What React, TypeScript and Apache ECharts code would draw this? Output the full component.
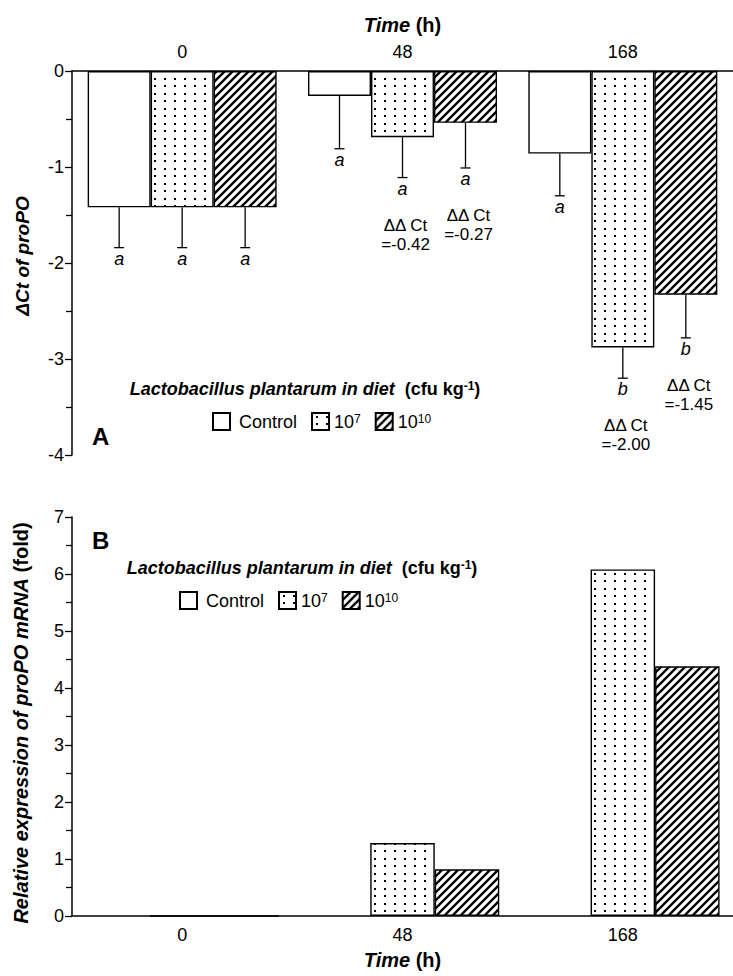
import React, { useEffect, useRef } from 'react';
import * as echarts from 'echarts';

// ---------- data ----------
const timeLabels = ['0', '48', '168'];
const groupNames = ['Control', '10^7', '10^10'];

// Panel A: ΔCt of proPO
const dCtControl = [-1.42, -0.26, -0.86];
const dCt1e7 = [-1.42, -0.69, -2.88];
const dCt1e10 = [-1.42, -0.54, -2.33];
const errControl = [0.42, 0.55, 0.44];
const err1e7 = [0.42, 0.42, 0.32];
const err1e10 = [0.42, 0.47, 0.45];
const lettersControl = ['a', 'a', 'a'];
const letters1e7 = ['a', 'a', 'b'];
const letters1e10 = ['a', 'a', 'b'];
const ddCtControl: (number | null)[] = [null, null, null];
const ddCt1e7: (number | null)[] = [null, -0.42, -2.0];
const ddCt1e10: (number | null)[] = [null, -0.27, -1.45];

// Panel B: relative expression (fold)
const relControl: (number | null)[] = [null, null, null];
const rel1e7 = [0, 1.28, 6.08];
const rel1e10 = [0, 0.82, 4.38];

// ---------- styling ----------
const FONT = "'Liberation Sans', Arial, Helvetica, sans-serif";
const BAR_A = 63;
const BAR_B = 64.5;

function makeDots() {
  const c = document.createElement('canvas');
  c.width = 10;
  c.height = 15;
  const ctx = c.getContext('2d')!;
  ctx.fillStyle = '#fff';
  ctx.fillRect(0, 0, 10, 15);
  ctx.fillStyle = '#000';
  ctx.fillRect(4, 3, 2, 2);
  ctx.fillRect(4, 10, 2, 2);
  return { image: c, repeat: 'repeat', imageWidth: 10, imageHeight: 15 } as any;
}

function makeHatch() {
  const c = document.createElement('canvas');
  c.width = 8;
  c.height = 8;
  const ctx = c.getContext('2d')!;
  ctx.fillStyle = '#fff';
  ctx.fillRect(0, 0, 8, 8);
  ctx.strokeStyle = '#000';
  ctx.lineWidth = 2.3;
  ctx.beginPath();
  ctx.moveTo(-2, 10);
  ctx.lineTo(10, -2);
  ctx.moveTo(-6, 6);
  ctx.lineTo(6, -6);
  ctx.moveTo(2, 14);
  ctx.lineTo(14, 2);
  ctx.stroke();
  return { image: c, repeat: 'repeat', imageWidth: 8, imageHeight: 8 } as any;
}

const axisLineStyle = { color: '#000', width: 1.5 };
const tickLineStyle = { color: '#000', width: 1.3 };
const labelStyle = { fontSize: 18, color: '#000', fontFamily: FONT };

export default function App() {
  const ref = useRef<HTMLDivElement>(null);

  useEffect(() => {
    if (!ref.current) return;
    const chart = echarts.init(ref.current, undefined, { renderer: 'svg' });
    const dots = makeDots();
    const hatch = makeHatch();
    const fills = ['#fff', dots, hatch];

    const legendFormatter = (name: string) =>
      name === 'Control' ? '{c|Control}' : name === '10^7' ? '{n|10}{s|7}' : '{n|10}{s|10}';
    const legendRich = {
      c: { fontSize: 18, color: '#000', fontFamily: FONT, padding: [0, 0, 0, 4] },
      n: { fontSize: 18, color: '#000', fontFamily: FONT },
      s: { fontSize: 12, color: '#000', fontFamily: FONT, verticalAlign: 'top' },
    };

    const errSeries = (g: number, vals: number[], errs: number[], letters: string[], dd: (number | null)[]) => ({
      type: 'custom',
      xAxisIndex: 0,
      yAxisIndex: 0,
      silent: true,
      z: 10,
      data: vals.map((v, i) => [i, v, v - errs[i]]),
      renderItem: (params: any, api: any) => {
        const i = api.value(0);
        const top = api.coord([i, api.value(1)]);
        const end = api.coord([i, api.value(2)]);
        const x = top[0] + (g - 1) * BAR_A;
        const children: any[] = [
          { type: 'line', shape: { x1: x, y1: top[1], x2: x, y2: end[1] }, style: { stroke: '#000', lineWidth: 1.3 } },
          { type: 'line', shape: { x1: x - 5, y1: end[1], x2: x + 5, y2: end[1] }, style: { stroke: '#000', lineWidth: 1.3 } },
          {
            type: 'text',
            x: x,
            y: end[1] + 11,
            style: {
              text: letters[params.dataIndex],
              fontSize: 18,
              fontStyle: 'italic',
              fontFamily: FONT,
              fill: '#000',
              align: 'center',
              verticalAlign: 'middle',
            },
          },
        ];
        const d = dd[params.dataIndex];
        if (d !== null && d !== undefined) {
          children.push({
            type: 'text',
            x: x + 3,
            y: end[1] + 38,
            style: {
              text: 'ΔΔ Ct\n=' + d.toFixed(2),
              fontSize: 17,
              lineHeight: 19,
              fontFamily: FONT,
              fill: '#000',
              align: 'center',
              verticalAlign: 'top',
            },
          });
        }
        return { type: 'group', children };
      },
    });

    const nameRich = {
      i: { fontSize: 20, fontWeight: 'bold', fontStyle: 'italic', fontFamily: FONT, color: '#000' },
      b: { fontSize: 20, fontWeight: 'bold', fontFamily: FONT, color: '#000' },
    };

    const legendTitle = (x: number, y: number) => ({
      type: 'text',
      x,
      y,
      style: {
        text: '{i|Lactobacillus plantarum in diet}{b|  (cfu kg}{s|-1}{b|)}',
        align: 'center',
        verticalAlign: 'middle',
        rich: {
          i: { fontSize: 18, fontWeight: 'bold', fontStyle: 'italic', fontFamily: FONT, fill: '#000' },
          b: { fontSize: 18, fontWeight: 'bold', fontFamily: FONT, fill: '#000' },
          s: { fontSize: 12, fontWeight: 'bold', fontFamily: FONT, fill: '#000', verticalAlign: 'top' },
        },
      },
    });

    const option: any = {
      animation: false,
      backgroundColor: '#fff',
      grid: [
        { left: 72, top: 71, width: 662, height: 384 },
        { left: 72, top: 517, width: 672, height: 399 },
      ],
      xAxis: [
        {
          gridIndex: 0,
          type: 'category',
          position: 'top',
          data: timeLabels,
          axisLine: { lineStyle: axisLineStyle },
          axisTick: { length: 8, lineStyle: tickLineStyle },
          axisLabel: { ...labelStyle, margin: 10 },
          splitLine: { show: false },
          name: '{i|Time} {b|(h)}',
          nameLocation: 'middle',
          nameGap: 36,
          nameTextStyle: { fontSize: 20, fontFamily: FONT, color: '#000', rich: nameRich },
        },
        {
          gridIndex: 0,
          type: 'category',
          position: 'top',
          data: timeLabels,
          axisLine: { show: false },
          axisTick: { alignWithLabel: true, length: 6, lineStyle: tickLineStyle },
          axisLabel: { show: false },
          splitLine: { show: false },
        },
        {
          gridIndex: 1,
          type: 'category',
          position: 'bottom',
          data: timeLabels,
          axisLine: { lineStyle: axisLineStyle },
          axisTick: { length: 7, lineStyle: tickLineStyle },
          axisLabel: { ...labelStyle, margin: 10 },
          splitLine: { show: false },
          name: '{i|Time} {b|(h)}',
          nameLocation: 'middle',
          nameGap: 34,
          nameTextStyle: { fontSize: 20, fontFamily: FONT, color: '#000', rich: nameRich },
        },
        {
          gridIndex: 1,
          type: 'category',
          position: 'bottom',
          data: timeLabels,
          axisLine: { show: false },
          axisTick: { alignWithLabel: true, length: 7, lineStyle: tickLineStyle },
          axisLabel: { show: false },
          splitLine: { show: false },
        },
      ],
      yAxis: [
        {
          gridIndex: 0,
          type: 'value',
          min: -4,
          max: 0,
          interval: 1,
          axisLine: { show: true, lineStyle: axisLineStyle },
          axisTick: { show: true, length: 7, lineStyle: tickLineStyle },
          minorTick: { show: true, splitNumber: 2, length: 6, lineStyle: tickLineStyle },
          splitLine: { show: false },
          axisLabel: { ...labelStyle, margin: 8 },
        },
        {
          gridIndex: 1,
          type: 'value',
          min: 0,
          max: 7,
          interval: 1,
          axisLine: { show: true, lineStyle: axisLineStyle },
          axisTick: { show: true, length: 7, lineStyle: tickLineStyle },
          minorTick: { show: true, splitNumber: 2, length: 6, lineStyle: tickLineStyle },
          splitLine: { show: false },
          axisLabel: { ...labelStyle, margin: 8 },
        },
      ],
      legend: [
        {
          left: 212,
          top: 412,
          padding: 0,
          itemWidth: 17,
          itemHeight: 17,
          itemGap: 14,
          icon: 'rect',
          data: groupNames,
          formatter: legendFormatter,
          selectedMode: false,
          textStyle: { fontSize: 18, color: '#000', fontFamily: FONT, rich: legendRich },
        },
        {
          left: 179,
          top: 591,
          padding: 0,
          itemWidth: 17,
          itemHeight: 17,
          itemGap: 14,
          icon: 'rect',
          data: groupNames,
          formatter: legendFormatter,
          selectedMode: false,
          textStyle: { fontSize: 18, color: '#000', fontFamily: FONT, rich: legendRich },
        },
      ],
      graphic: [
        legendTitle(305, 389),
        legendTitle(302, 568),
        {
          type: 'text',
          x: 92,
          y: 436,
          style: { text: 'A', fontSize: 24, fontWeight: 'bold', fontFamily: FONT, fill: '#000', verticalAlign: 'middle' },
        },
        {
          type: 'text',
          x: 92,
          y: 540,
          style: { text: 'B', fontSize: 24, fontWeight: 'bold', fontFamily: FONT, fill: '#000', verticalAlign: 'middle' },
        },
        {
          type: 'text',
          x: 22,
          y: 256,
          rotation: Math.PI / 2,
          style: {
            text: 'ΔCt of proPO',
            fontSize: 19,
            fontWeight: 'bold',
            fontStyle: 'italic',
            fontFamily: FONT,
            fill: '#000',
            align: 'center',
            verticalAlign: 'middle',
          },
        },
        {
          type: 'text',
          x: 21,
          y: 723,
          rotation: Math.PI / 2,
          style: {
            text: '{i|Relative expression of proPO mRNA} {b|(fold)}',
            align: 'center',
            verticalAlign: 'middle',
            fontSize: 20,
            fontFamily: FONT,
            rich: {
              i: { fontSize: 20, fontWeight: 'bold', fontStyle: 'italic', fontFamily: FONT, fill: '#000' },
              b: { fontSize: 20, fontWeight: 'bold', fontFamily: FONT, fill: '#000' },
            },
          },
        },
      ],
      series: [
        ...[dCtControl, dCt1e7, dCt1e10].map((d, g) => ({
          type: 'bar',
          name: groupNames[g],
          xAxisIndex: 0,
          yAxisIndex: 0,
          data: d,
          barWidth: BAR_A,
          barGap: '0%',
          itemStyle: { color: fills[g], borderColor: '#000', borderWidth: 1.4 },
        })),
        ...[relControl, rel1e7, rel1e10].map((d, g) => ({
          type: 'bar',
          name: groupNames[g],
          xAxisIndex: 2,
          yAxisIndex: 1,
          data: d,
          barWidth: BAR_B,
          barGap: '0%',
          itemStyle: { color: fills[g], borderColor: '#000', borderWidth: 1.4 },
        })),
        errSeries(0, dCtControl, errControl, lettersControl, ddCtControl),
        errSeries(1, dCt1e7, err1e7, letters1e7, ddCt1e7),
        errSeries(2, dCt1e10, err1e10, letters1e10, ddCt1e10),
      ],
    };

    chart.setOption(option);
    return () => chart.dispose();
  }, []);

  return (
    <div
      ref={ref}
      style={{ position: 'absolute', left: 0, top: 0, width: 733, height: 976, background: '#fff' }}
    />
  );
}
